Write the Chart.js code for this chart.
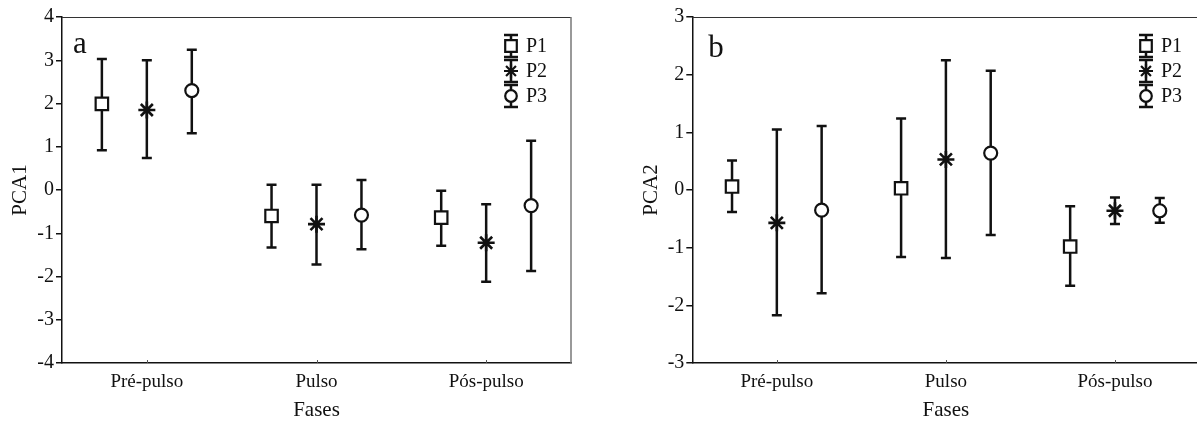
<!DOCTYPE html>
<html>
<head>
<meta charset="utf-8">
<script src="https://cdn.jsdelivr.net/npm/chart.js@4/dist/chart.umd.min.js"></script>
<style>
  html, body { margin: 0; padding: 0; background: #fff; overflow: hidden; }
  body { width: 1197px; height: 423px; position: relative; }
  canvas { position: absolute; top: 0; }
  #chartA { left: 0; }
  #chartB { left: 598px; }
</style>
</head>
<body>
<canvas id="chartA" width="600" height="423"></canvas>
<canvas id="chartB" width="604" height="423"></canvas>
<script>
// categories and series
const phases = ['Pré-pulso', 'Pulso', 'Pós-pulso'];
const seriesNames = ['P1', 'P2', 'P3'];

// panel a (PCA1): rows = P1, P2, P3 ; columns = phases
const pca1Mean  = [[1.99, -0.60, -0.64], [1.85, -0.79, -1.22], [2.30, -0.58, -0.36]];
const pca1Lower = [[0.92, -1.33, -1.29], [0.74, -1.72, -2.12], [1.31, -1.37, -1.87]];
const pca1Upper = [[3.03, 0.12, -0.02], [3.00, 0.12, -0.33], [3.24, 0.23, 1.14]];
const pca1Ticks = [-4, -3, -2, -1, 0, 1, 2, 3, 4];

// panel b (PCA2)
const pca2Mean  = [[0.06, 0.03, -0.98], [-0.57, 0.53, -0.36], [-0.35, 0.64, -0.36]];
const pca2Lower = [[-0.38, -1.16, -1.66], [-2.17, -1.18, -0.59], [-1.79, -0.78, -0.57]];
const pca2Upper = [[0.51, 1.24, -0.28], [1.05, 2.25, -0.13], [1.11, 2.07, -0.14]];
const pca2Ticks = [-3, -2, -1, 0, 1, 2, 3];

const serif = "'Liberation Serif', 'Times New Roman', serif";
const markerStyles = ['rect', 'star', 'circle'];
const markerRadius = [8.8, 8.5, 6.5];
const markerStroke = [2.2, 2.6, 2.2];
const dodge = [-0.265, 0, 0.265]; // horizontal offset of each series inside a phase

// small marker drawer for the legend
function drawMarker(ctx, style, x, y, r) {
  ctx.beginPath();
  if (style === 'rect') {
    const s = r * Math.SQRT1_2;
    ctx.rect(x - s, y - s, 2 * s, 2 * s);
    ctx.fill(); ctx.stroke();
  } else if (style === 'circle') {
    ctx.arc(x, y, r, 0, Math.PI * 2);
    ctx.fill(); ctx.stroke();
  } else {
    const d = r * Math.SQRT1_2;
    ctx.moveTo(x - r, y); ctx.lineTo(x + r, y);
    ctx.moveTo(x, y - r); ctx.lineTo(x, y + r);
    ctx.moveTo(x - d, y - d); ctx.lineTo(x + d, y + d);
    ctx.moveTo(x - d, y + d); ctx.lineTo(x + d, y - d);
    ctx.stroke();
  }
}

// error bars, frame, panel letter, legend
const errorBarPlugin = {
  id: 'errorBars',
  beforeDatasetsDraw(chart) {
    const { ctx } = chart;
    const y = chart.scales.y;
    ctx.save();
    ctx.strokeStyle = '#111';
    ctx.lineWidth = 2.5;
    chart.data.datasets.forEach((ds, i) => {
      chart.getDatasetMeta(i).data.forEach((pt, j) => {
        const d = ds.data[j];
        const top = y.getPixelForValue(d.yMax);
        const bot = y.getPixelForValue(d.yMin);
        ctx.beginPath();
        ctx.moveTo(pt.x, top); ctx.lineTo(pt.x, bot);
        ctx.moveTo(pt.x - 5, top); ctx.lineTo(pt.x + 5, top);
        ctx.moveTo(pt.x - 5, bot); ctx.lineTo(pt.x + 5, bot);
        ctx.stroke();
      });
    });
    ctx.restore();
  },
  afterDraw(chart, args, opts) {
    const { ctx, chartArea: a } = chart;
    const x = chart.scales.x;
    ctx.save();
    // top and right frame
    ctx.lineWidth = 1;
    ctx.strokeStyle = '#333';
    ctx.beginPath();
    ctx.moveTo(a.left, a.top + 0.5); ctx.lineTo(a.right, a.top + 0.5);
    ctx.stroke();
    ctx.strokeStyle = '#777';
    ctx.lineWidth = 1.5;
    ctx.beginPath();
    ctx.moveTo(a.right, a.top); ctx.lineTo(a.right, a.bottom);
    ctx.stroke();
    // inner x ticks
    ctx.strokeStyle = '#555';
    ctx.lineWidth = 1;
    phases.forEach((p, i) => {
      const px = Math.round(x.getPixelForValue(i)) + 0.5;
      ctx.beginPath();
      ctx.moveTo(px, a.bottom); ctx.lineTo(px, a.bottom - 3);
      ctx.stroke();
    });
    // panel letter
    ctx.fillStyle = '#111';
    ctx.font = '31px ' + serif;
    ctx.textBaseline = 'alphabetic';
    ctx.fillText(opts.letter, a.left + opts.letterDx, opts.letterY);
    // legend
    const sx = a.right - opts.legendDx;
    ctx.font = '20px ' + serif;
    ctx.textBaseline = 'middle';
    seriesNames.forEach((name, s) => {
      const cy = a.top + 29 + s * 25;
      ctx.strokeStyle = '#111';
      ctx.lineWidth = 2.5;
      ctx.beginPath();
      ctx.moveTo(sx, cy - 11); ctx.lineTo(sx, cy + 11);
      ctx.moveTo(sx - 7, cy - 11); ctx.lineTo(sx + 7, cy - 11);
      ctx.moveTo(sx - 7, cy + 11); ctx.lineTo(sx + 7, cy + 11);
      ctx.stroke();
      ctx.fillStyle = '#fff';
      ctx.lineWidth = 2.2;
      drawMarker(ctx, markerStyles[s], sx, cy, [8.2, 7, 5.8][s]);
      ctx.fillStyle = '#111';
      ctx.fillText(name, sx + 15, cy + 1);
    });
    ctx.restore();
  }
};

function makeDatasets(mean, lower, upper) {
  return seriesNames.map((name, s) => ({
    label: name,
    data: phases.map((p, i) => ({ x: i + dodge[s], y: mean[s][i], yMin: lower[s][i], yMax: upper[s][i] })),
    showLine: false,
    pointStyle: markerStyles[s],
    pointRadius: markerRadius[s],
    pointHoverRadius: markerRadius[s],
    pointBackgroundColor: '#fff',
    pointBorderColor: '#111',
    pointBorderWidth: markerStroke[s]
  }));
}

function makeChart(id, cfg) {
  return new Chart(document.getElementById(id), {
    type: 'scatter',
    data: { datasets: makeDatasets(cfg.mean, cfg.lower, cfg.upper) },
    plugins: [errorBarPlugin],
    options: {
      responsive: false,
      animation: false,
      events: [],
      layout: { autoPadding: false, padding: cfg.padding },
      plugins: {
        legend: { display: false },
        tooltip: { enabled: false },
        errorBars: cfg.panel
      },
      scales: {
        x: {
          type: 'linear',
          min: -0.5,
          max: phases.length - 0.5,
          afterBuildTicks: s => { s.ticks = phases.map((p, i) => ({ value: i })); },
          afterFit: s => { s.height = 60; },
          ticks: {
            autoSkip: false, maxRotation: 0, padding: 8,
            color: '#111', font: { family: serif, size: 19 },
            callback: v => phases[v]
          },
          grid: { drawOnChartArea: false, drawTicks: false },
          border: { color: '#111', width: 1.5 },
          title: {
            display: true, text: 'Fases', color: '#111',
            font: { family: serif, size: 21 }, padding: { top: 0, bottom: 0 }
          }
        },
        y: {
          min: cfg.ticks[0],
          max: cfg.ticks[cfg.ticks.length - 1],
          afterBuildTicks: s => { s.ticks = cfg.ticks.map(v => ({ value: v })); },
          afterFit: s => { s.width = cfg.yWidth; },
          ticks: {
            padding: 2, color: '#111', font: { family: serif, size: 20 },
            callback: v => String(v)
          },
          grid: { drawOnChartArea: false, drawTicks: true, tickLength: 6, color: '#111', lineWidth: 1.5 },
          border: { color: '#111', width: 1.5 },
          title: {
            display: true, text: cfg.title, color: '#111',
            font: { family: serif, size: 21 }, padding: { top: cfg.titlePad, bottom: 0 }
          }
        }
      }
    }
  });
}

makeChart('chartA', {
  mean: pca1Mean, lower: pca1Lower, upper: pca1Upper, ticks: pca1Ticks,
  title: 'PCA1', yWidth: 62, titlePad: 7.4,
  padding: { top: 17, right: 29, left: 0, bottom: 0 },
  panel: { letter: 'a', letterDx: 11, letterY: 53, legendDx: 60 }
});

makeChart('chartB', {
  mean: pca2Mean, lower: pca2Lower, upper: pca2Upper, ticks: pca2Ticks,
  title: 'PCA2', yWidth: 54.3, titlePad: 0.4,
  padding: { top: 17, right: 2.5, left: 40, bottom: 0 },
  panel: { letter: 'b', letterDx: 16, letterY: 57, legendDx: 53.5 }
});
</script>
</body>
</html>
